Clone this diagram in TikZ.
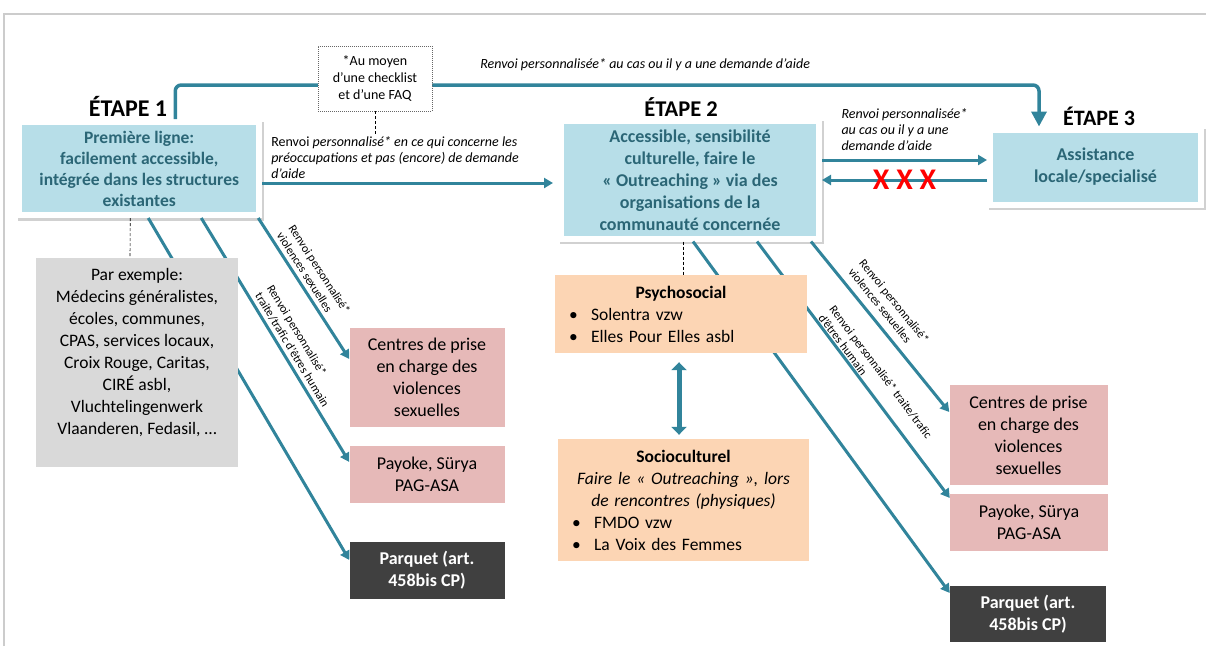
\documentclass[tikz,border=0pt]{standalone}
\usepackage{fontspec}
\setmainfont{Carlito}
\usetikzlibrary{arrows.meta,positioning,shadows,calc}

\definecolor{renvoi}{HTML}{31849B}
\definecolor{stageblue}{HTML}{B7DEE8}
\definecolor{stagetext}{HTML}{2B6676}
\definecolor{peachbox}{HTML}{FCD5B4}
\definecolor{rosebox}{HTML}{E6B9B8}
\definecolor{greybox}{HTML}{D9D9D9}
\definecolor{darkbox}{HTML}{404040}

\newcommand\corpsfont{\fontsize{18}{22}\selectfont}
\newcommand\renvoifont{\fontsize{14}{16}\selectfont\itshape}
\newcommand\pentefont{\fontsize{12}{14}\selectfont}
\newcommand\notefont{\fontsize{14}{17}\selectfont}
\newcommand\puce{\makebox[22pt][l]{\textbullet}}

\tikzset{
  flow/.style={draw=renvoi, line width=3pt, -{Triangle[width=10pt,length=9pt]}},
  biflow/.style={draw=renvoi, line width=5pt, {Triangle[width=15pt,length=8pt]}-{Triangle[width=15pt,length=8pt]}},
  guide/.style={draw=black, line width=0.6pt, dash pattern=on 3pt off 2pt},
  cadre/.style={draw=black!20, line width=1.2pt},
  etape/.style={font=\fontsize{24}{28}\selectfont\bfseries, inner sep=0pt},
  stage/.style={fill=stageblue, draw=white, line width=6pt, text=stagetext, align=center,
    font=\fontsize{18}{22}\selectfont\bfseries,
    drop shadow={shadow xshift=1.5pt, shadow yshift=-2.5pt, fill=black!40, draw=black!40, line width=6pt, opacity=.45}},
  box/.style={inner sep=0pt, align=center, font=\corpsfont},
  rose/.style={box, fill=rosebox, minimum width=155pt},
  court/.style={box, fill=darkbox, text=white, font=\corpsfont\bfseries, minimum width=155pt},
  grey/.style={box, fill=greybox, font=\fontsize{17.5}{22}\selectfont},
  peach/.style={box, fill=peachbox, inner xsep=14pt, align=left, font=\fontsize{17.5}{22}\selectfont},
  note/.style={fill=white, draw=black!60, dash pattern=on 1pt off 1pt, line width=0.6pt,
    minimum width=114pt, minimum height=65pt, inner sep=0pt, align=center, font=\notefont},
  lbl/.style={font=\renvoifont, text=black, inner sep=0pt},
  rot/.style={font=\pentefont, text=black, inner sep=0pt, align=left, sloped},
  croix/.style={font=\fontsize{30}{30}\selectfont\bfseries, text=red, inner sep=0pt}
}

\begin{document}
\begin{tikzpicture}[x=1pt, y=-1pt]
\useasboundingbox (0,0) rectangle (1206,646);
\draw[cadre] (4,646) -- (4,14) -- (1206,14);

% les trois etapes
\node[etape] (e1) at (128,106) {ÉTAPE 1};
\node[etape, font=\fontsize{22.5}{26}\selectfont\bfseries] (e2) at (681,107) {ÉTAPE 2};
\node[etape, font=\fontsize{22}{26}\selectfont\bfseries] (e3) at (1099,116) {ÉTAPE 3};

\node[stage, minimum width=240pt, minimum height=93pt, font=\fontsize{17.5}{21}\selectfont\bfseries] (b1) at (139.25,168.5)
  {Première ligne:\\facilement accessible,\\intégrée dans les structures\\existantes};
\node[stage, minimum width=258pt, minimum height=117.5pt] (b2) at (690,179.75)
  {Accessible, sensibilité\\culturelle, faire le\\«~Outreaching~» via des\\organisations de la\\communauté concernée};
\node[stage, minimum width=211pt, minimum height=75pt] (b3) at (1095.5,167)
  {Assistance\\locale/specialisé};

% renvoi direct vers l'etape 3
\draw[flow, line width=3.5pt, rounded corners=6pt, -{Triangle[width=15pt,length=15pt]}]
  ([xshift=36pt]b1.north) -- ++(0,-34)
  -| node[pos=0.272, above=12pt, lbl] {Renvoi personnalisée* au cas ou il y a une demande d’aide}
  ([xshift=-56.5pt]b3.north);
\node[note] (faq) at (375,78.5) {*Au moyen\\d’une checklist\\et d’une FAQ};

\draw[flow] ([yshift=-14.5pt]b1.east) --
  node[at start, anchor=south west, xshift=7.5pt, yshift=3pt, lbl, align=left] (l12)
  {\textup{Renvoi} personnalisé* en ce qui concerne les\\préoccupations et pas (encore) de demande\\d’aide}
  ([yshift=-3.25pt, xshift=-5pt]b2.west);
\draw[guide] (faq.south) -- (faq.south |- l12.north);

\draw[flow] ([yshift=19.75pt]b2.east) --
  node[at start, anchor=south west, xshift=18pt, yshift=8pt, lbl, align=left]
  {Renvoi personnalisée*\\au cas ou il y a une\\demande d’aide}
  ([yshift=7pt]b3.west);
\draw[flow] ([yshift=-13pt]b3.west) -- node[midway, croix] {X X X} ([yshift=-0.25pt]b2.east);

% services specialises
\node[rose, minimum height=99pt] (vs1) at (427,377.5) {Centres de prise\\en charge des\\violences\\sexuelles};
\node[rose, minimum height=57pt] (th1) at (427,474.5) {Payoke, Sürya\\PAG-ASA};
\node[court, minimum height=57pt] (pq1) at (427,570.5) {Parquet (art.\\458bis CP)};
\node[rose, minimum width=158pt, minimum height=100pt] (vs2) at (1028.5,435) {Centres de prise\\en charge des\\violences\\sexuelles};
\node[rose, minimum width=158pt, minimum height=57pt] (th2) at (1029,522.5) {Payoke, Sürya\\PAG-ASA};
\node[court, minimum width=156pt, minimum height=56pt] (pq2) at (1028,614) {Parquet (art.\\458bis CP)};

\draw[flow] ([xshift=9pt]b1.south) -- ([yshift=10.5pt]pq1.west);
\draw[flow] ([xshift=62pt]b1.south) --
  node[rot, pos=0.56, above=3.5pt] {Renvoi personnalisé*\\traite/trafic d’êtres humain}
  ([yshift=12.5pt]th1.west);
\draw[flow] ([xshift=119pt]b1.south) --
  node[rot, pos=0.455, above=4pt] {Renvoi personnalisé*\\violences sexuelles}
  ([yshift=18.5pt]vs1.west);

\draw[flow] ([xshift=3pt]b2.south) -- ([yshift=21pt]pq2.west);
\draw[flow] ([xshift=67pt]b2.south) --
  node[rot, pos=0.557, above=1pt] {Renvoi personnalisé* traite/trafic\\d’êtres humain}
  ([yshift=24.5pt]th2.west);
\draw[flow] ([xshift=121pt]b2.south) --
  node[rot, pos=0.45, above=7.5pt] {Renvoi personnalisé*\\violences sexuelles}
  ([yshift=23pt]vs2.west);

% premiere ligne : exemples
\node[grey, minimum width=202pt, minimum height=209pt] (ex) at (137,362.5)
  {Par exemple:\\Médecins généralistes,\\écoles, communes,\\CPAS, services locaux,\\Croix Rouge, Caritas,\\CIRÉ asbl,\\Vluchtelingenwerk\\Vlaanderen, Fedasil, …\\\mbox{}};
\draw[guide] ([xshift=-9pt]b1.south) -- ([xshift=-7pt]ex.north);

% etape 2 : organisations
\node[peach, minimum width=252pt, minimum height=78pt, text width=224pt] (psy) at (681,314)
  {\makebox[224pt]{\bfseries Psychosocial}\\\puce Solentra vzw\\\puce Elles Pour Elles asbl};
\node[peach, minimum width=251pt, minimum height=122pt, text width=223pt] (soc) at (683.5,500)
  {\makebox[223pt]{\bfseries Socioculturel}\\\makebox[223pt]{\itshape Faire le «~Outreaching~», lors}\\\makebox[223pt]{\itshape de rencontres (physiques)}\\\puce FMDO vzw\\\puce La Voix des Femmes};
\draw[guide] ([xshift=-7pt]b2.south) -- ([xshift=2pt]psy.north);
\draw[biflow, shorten <=9pt, shorten >=4pt] ([xshift=-2pt]psy.south) -- ([xshift=-2pt]psy.south |- soc.north);
\end{tikzpicture}
\end{document}
